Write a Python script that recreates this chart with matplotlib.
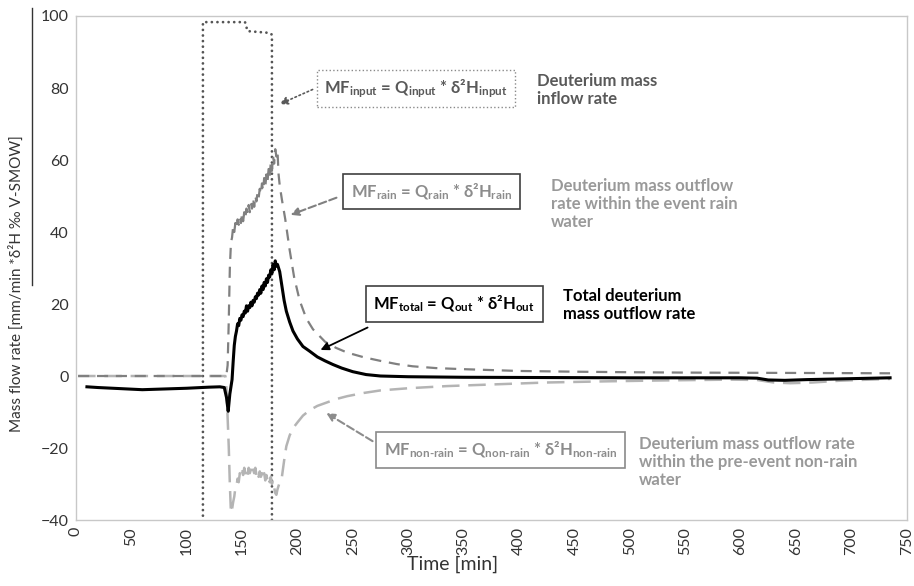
import matplotlib
matplotlib.use('Agg')
import matplotlib.pyplot as plt
from matplotlib.lines import Line2D

plt.rcParams['font.family'] = ['Lato', 'DejaVu Sans']
plt.rcParams['mathtext.fontset'] = 'custom'
plt.rcParams['mathtext.rm'] = 'Lato:bold'
plt.rcParams['mathtext.bf'] = 'Lato:bold'
plt.rcParams['mathtext.it'] = 'Lato:bold'

# --- data ---
# total deuterium mass outflow rate (black)
t_total = [10, 20, 40, 60, 80, 100, 120, 130, 134, 136, 137.5, 139,
           141, 142, 143, 144, 145, 146, 147, 148, 149, 150, 151, 152, 153, 154, 155,
           156, 157, 158, 159, 160, 161, 162, 163, 164, 165, 166, 167, 168, 169, 170,
           171, 172, 173, 174, 175, 176, 177, 178, 179, 180, 181, 182,
           184, 186, 188, 190, 193, 196, 200, 205, 211, 218, 225, 232, 240, 250, 262,
           275, 300, 350, 400, 450, 500, 550, 600, 615, 625, 640, 660, 690, 735]
v_total = [-3.0, -3.2, -3.5, -3.8, -3.6, -3.4, -3.1, -3.0, -3.2, -6.0, -9.8, -5.0,
           -1.0, 4.0, 8.5, 11.0, 12.5, 14.5, 14.0, 16.0, 15.5, 17.0, 16.5, 18.0, 17.5, 19.5, 18.0,
           19.5, 19.0, 20.5, 19.5, 21.0, 20.5, 22.0, 21.5, 23.0, 22.5, 24.0, 23.0, 25.0, 24.0, 26.0,
           25.0, 27.0, 26.0, 28.0, 27.5, 29.5, 28.5, 31.0, 29.5, 32.0, 30.5, 31.0,
           29.0, 25.0, 21.0, 18.0, 15.0, 12.5, 10.3, 8.2, 6.9, 5.3, 4.2, 3.2, 2.2, 1.2, 0.4,
           0.0, -0.2, -0.35, -0.4, -0.45, -0.5, -0.5, -0.5, -0.6, -1.1, -1.2, -1.0, -0.8, -0.5]

# outflow within event rain water (dark grey dashed)
t_rain = [2, 60, 120, 134, 136, 137, 138, 139, 140,
          141, 142, 143, 144, 145, 146, 147, 148, 149, 150, 151, 152, 153, 154, 155,
          156, 157, 158, 159, 160, 161, 162, 163, 164, 165, 166, 167, 168, 169, 170,
          171, 172, 173, 174, 175, 176, 177, 178, 179, 180, 181, 182, 183, 184,
          186, 189, 193, 197, 202, 208, 214, 225, 235, 245, 260, 275, 290, 304, 325,
          350, 400, 450, 500, 550, 600, 650, 700, 735]
v_rain = [0, 0, 0, 0, 0.5, 3, 15, 30, 37,
          38.5, 41.5, 40.0, 42.5, 41.0, 43.5, 42.0, 44.0, 42.5, 45.0, 43.0, 45.5, 44.0, 46.5, 45.0,
          47.5, 45.5, 48.0, 46.5, 49.5, 47.0, 50.0, 48.5, 51.0, 49.5, 52.0, 50.5, 53.5, 51.5, 55.0,
          52.5, 56.0, 54.0, 57.5, 55.5, 59.5, 57.0, 61.0, 59.0, 63.0, 61.0, 62.5, 56.0, 53.0,
          49.0, 43.6, 35.0, 27.5, 21.0, 16.0, 13.0, 9.5, 7.8, 6.5, 5.2, 4.2, 3.3, 2.7, 2.2,
          1.9, 1.4, 1.2, 1.05, 0.95, 0.9, 0.85, 0.8, 0.75]

# outflow within pre-event non-rain water (light grey dashed)
t_nonrain = [2, 60, 120, 135, 136, 138, 139, 140,
             141, 142, 143, 144, 145, 146, 147, 148, 149, 150, 151, 152, 153, 154, 155,
             156, 157, 158, 159, 160, 161, 162, 163, 164, 165, 166, 167, 168, 169, 170,
             171, 172, 173, 174, 175, 176, 177, 178, 179, 180, 181, 182,
             184, 186, 188, 190, 193, 196, 200, 205, 211, 218, 227, 235, 245, 260, 275,
             300, 335, 380, 425, 475, 525, 591, 615, 630, 645, 665, 690, 735]
v_nonrain = [0, 0, 0, 0, -3.7, -19.5, -30.0, -38.0,
             -37.0, -35.0, -33.5, -31.0, -30.5, -28.5, -29.5, -27.0, -28.0, -26.5, -27.5, -25.5, -27.0, -26.0, -27.5,
             -25.5, -27.0, -26.0, -27.5, -26.0, -27.0, -25.5, -27.5, -26.5, -28.0, -26.5, -28.0, -27.0, -28.5, -27.0,
             -29.0, -27.5, -29.0, -28.0, -29.5, -28.0, -30.0, -29.0, -31.0, -32.5, -33.0, -31.5,
             -29.5, -28.0, -23.5, -19.5, -16.5, -14.5, -12.9, -11.0, -9.5, -8.3, -7.3, -6.4, -5.6, -4.7, -4.0,
             -3.4, -2.8, -2.3, -1.8, -1.5, -1.25, -1.0, -1.1, -1.8, -2.0, -1.8, -1.3, -0.8]

# deuterium mass inflow rate (dotted)
t_input = [114.7, 114.7, 152.7, 155, 175, 177, 177]
v_input = [-45, 98.3, 98.3, 95.8, 95.3, 94.8, -45]

fig = plt.figure(figsize=(9.14, 5.86), dpi=100)
ax = fig.add_axes([0.083, 0.1126, 0.909, 0.8601])

ax.plot(t_input, v_input, color='#555555', lw=2, ls=(0, (0.01, 2.0)),
        dash_capstyle='round', solid_capstyle='round')
ax.plot(t_nonrain, v_nonrain, color='#b4b4b4', lw=1.8, dashes=(7, 3.5))
ax.plot(t_rain, v_rain, color='#808080', lw=1.6, dashes=(5, 3.5))
ax.plot(t_total, v_total, color='black', lw=2.2)

ax.set_xlim(0, 750)
ax.set_ylim(-40, 100)
ax.set_xticks(range(0, 751, 50))
ax.set_yticks(range(-40, 101, 20))
ax.tick_params(length=0, labelsize=11.5, colors='#333333', pad=5)
ax.tick_params(axis='x', labelrotation=90)
for s in ax.spines.values():
    s.set_color('#c8c8c8')
    s.set_linewidth(1)

narrow = ['Liberation Sans Narrow', 'Lato', 'DejaVu Sans']
ax.set_xlabel('Time [min]', fontsize=14, color='#333333', family=narrow)
ax.xaxis.set_label_coords(0.454, -0.07)
ax.set_ylabel('Mass flow rate [mm/min *δ²H ‰ V-SMOW]', fontsize=11, color='#333333', family=narrow)
ax.yaxis.set_label_coords(-0.063, 0.47)

# stray line next to the y label
fig.add_artist(Line2D([32 / 914, 32 / 914], [1 - 8 / 586, 1 - 285 / 586],
                      transform=fig.transFigure, color='#333333', lw=1))

# formula boxes
box_kw = dict(ha='center', va='center', fontsize=12, fontweight='bold')
ax.text(307, 79.9, r'MF$_{\mathrm{input}}$ = Q$_{\mathrm{input}}$ * δ²H$_{\mathrm{input}}$',
        color='#595959', **box_kw,
        bbox=dict(boxstyle='square,pad=0.45', fc='white', ec='#8a8a8a', lw=1, ls=':'))
ax.text(321, 51.2, r'MF$_{\mathrm{rain}}$ = Q$_{\mathrm{rain}}$ * δ²H$_{\mathrm{rain}}$',
        color='#8c8c8c', **box_kw,
        bbox=dict(boxstyle='square,pad=0.45', fc='white', ec='#404040', lw=1.2))
ax.text(341.5, 20, r'MF$_{\mathrm{total}}$ = Q$_{\mathrm{out}}$ * δ²H$_{\mathrm{out}}$',
        color='black', **box_kw,
        bbox=dict(boxstyle='square,pad=0.45', fc='white', ec='#404040', lw=1.2))
ax.text(383.5, -20.6, r'MF$_{\text{non-rain}}$ = Q$_{\text{non-rain}}$ * δ²H$_{\text{non-rain}}$',
        color='#8c8c8c', **box_kw,
        bbox=dict(boxstyle='square,pad=0.45', fc='white', ec='#8a8a8a', lw=1.2))

# descriptions
lab_kw = dict(ha='left', va='center', fontsize=12, fontweight='bold', linespacing=1.15)
ax.text(416.5, 79.5, 'Deuterium mass\ninflow rate', color='#595959', **lab_kw)
ax.text(429, 47.8, 'Deuterium mass outflow\nrate within the event rain\nwater', color='#999999', **lab_kw)
ax.text(440, 19.7, 'Total deuterium\nmass outflow rate', color='black', **lab_kw)
ax.text(508.6, -23.8, 'Deuterium mass outflow rate\nwithin the pre-event non-rain\nwater', color='#999999', **lab_kw)

# arrows
ax.annotate('', xy=(181.6, 75.2), xytext=(216, 79.9),
            arrowprops=dict(arrowstyle='-|>', color='#595959', lw=1.2, ls=':', mutation_scale=12))
ax.annotate('', xy=(191.5, 44.5), xytext=(237.6, 49.8),
            arrowprops=dict(arrowstyle='-|>', color='#808080', lw=1.5, ls='--', mutation_scale=12))
ax.annotate('', xy=(218.6, 6.9), xytext=(265.6, 13.8),
            arrowprops=dict(arrowstyle='-|>', color='black', lw=1.3, mutation_scale=12))
ax.annotate('', xy=(224, -9.9), xytext=(270, -18.5),
            arrowprops=dict(arrowstyle='-|>', color='#8c8c8c', lw=1.5, ls='--', mutation_scale=12))

fig.savefig('out.png', dpi=100)
